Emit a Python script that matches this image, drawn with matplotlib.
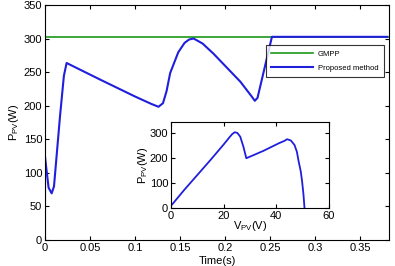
import matplotlib
matplotlib.use("Agg")
import matplotlib.pyplot as plt
import numpy as np

plt.rcParams['font.family'] = ['Liberation Sans', 'DejaVu Sans']

# Main chart data (time in s, power in W)
t_vals = [0.0, 0.0, 0.0005, 0.002, 0.004, 0.0074, 0.010, 0.0167, 0.021, 0.024,
          0.030, 0.061, 0.100, 0.118, 0.126, 0.131, 0.135, 0.139, 0.148, 0.155,
          0.160, 0.165, 0.175, 0.187, 0.217, 0.229, 0.233, 0.236, 0.252, 0.38]
p_vals = [0.0, 125.0, 118.0, 101.0, 78.0, 69.6, 80.0, 185.0, 245.0, 264.0,
          260.0, 239.4, 214.0, 203.0, 198.7, 204.0, 222.0, 249.0, 280.0, 294.0,
          299.0, 300.5, 293.0, 278.0, 236.0, 215.0, 207.6, 212.0, 303.0, 303.0]
gmpp_val = 303.0

# Inset P-V curve
v_vals = [0.5, 5.0, 10.0, 15.0, 20.0, 22.0, 23.2, 24.2, 25.2, 26.3, 27.5, 28.6,
          35.0, 41.0, 43.0, 44.1, 45.5, 46.9, 47.8, 48.5, 49.3, 49.8, 50.3, 50.7]
pv_vals = [15.0, 72.0, 132.0, 192.0, 254.0, 280.0, 295.0, 303.0, 300.0, 285.0, 245.0, 199.0,
           228.0, 259.0, 268.0, 275.0, 270.0, 252.0, 225.0, 185.0, 145.0, 105.0, 55.0, 0.0]

fs = 8
fig = plt.figure(figsize=(3.95, 2.66), dpi=100)
ax = fig.add_axes([0.1139, 0.0977, 0.8709, 0.8823])
ax.plot([0, 0.382], [gmpp_val, gmpp_val], color='#1a9a1a', lw=1.2, label='GMPP')
ax.plot(t_vals, p_vals, color='#1f1fdc', lw=1.5, label='Proposed method')
ax.set_xlim(0, 0.382)
ax.set_ylim(0, 350)
ax.set_xticks([0, 0.05, 0.1, 0.15, 0.2, 0.25, 0.3, 0.35])
ax.set_xticklabels(['0', '0.05', '0.1', '0.15', '0.2', '0.25', '0.3', '0.35'])
ax.set_yticks(np.arange(0, 351, 50))
ax.tick_params(direction='in', top=True, right=True, labelsize=fs, length=3, pad=2)
ax.set_xlabel('Time(s)', fontsize=fs, labelpad=2)
ax.set_ylabel(r'P$_{\mathregular{PV}}$(W)', fontsize=fs, labelpad=2)
for s in ax.spines.values():
    s.set_linewidth(0.8)
leg = ax.legend(loc='upper right', bbox_to_anchor=(0.985, 0.831), fontsize=5.5,
                frameon=True, fancybox=False, edgecolor='black', handlelength=5.5,
                borderpad=0.7, labelspacing=0.9, handletextpad=0.6, borderaxespad=0)
leg.get_frame().set_linewidth(0.8)

ins = fig.add_axes([0.4329, 0.218, 0.4, 0.3245])
ins.plot(v_vals, pv_vals, color='#1f1fdc', lw=1.3)
ins.set_xlim(0, 60)
ins.set_ylim(0, 345)
ins.set_xticks([0, 20, 40, 60])
ins.set_yticks([0, 100, 200, 300])
ins.tick_params(direction='in', top=True, right=True, labelsize=fs, length=3, pad=2)
ins.set_xlabel(r'V$_{\mathregular{PV}}$(V)', fontsize=fs, labelpad=-1)
ins.set_ylabel(r'P$_{\mathregular{PV}}$(W)', fontsize=fs, labelpad=0)
for s in ins.spines.values():
    s.set_linewidth(0.8)

fig.savefig('out.png', dpi=100)
